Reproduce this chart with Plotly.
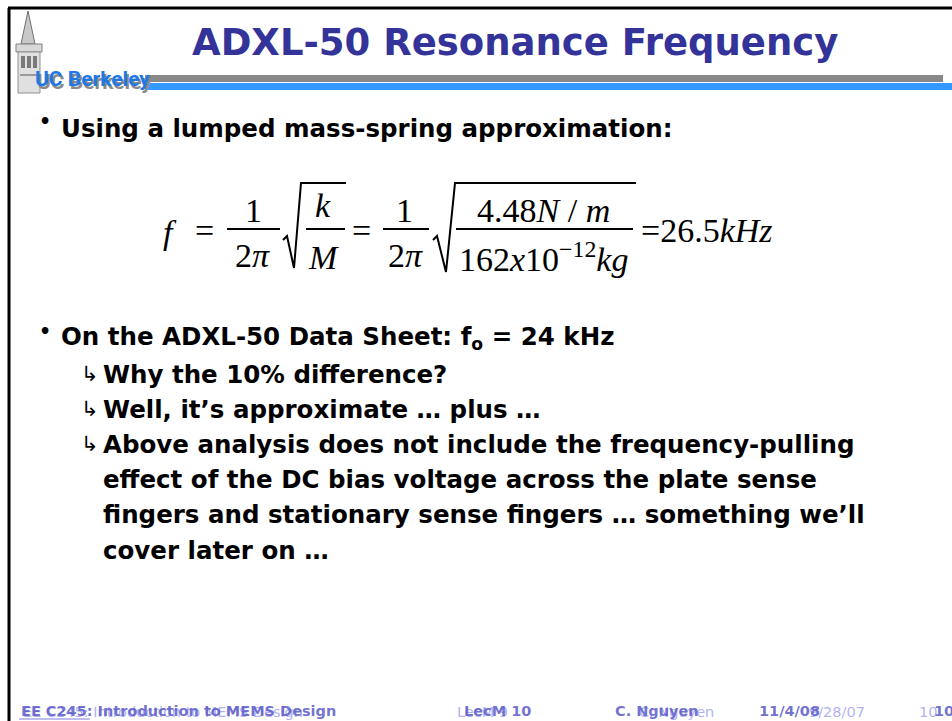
import plotly.graph_objects as go

W, H = 952, 721

title_text = "ADXL-50 Resonance Frequency"
bullet_lines = ["Using a lumped mass-spring approximation:",
                "On the ADXL-50 Data Sheet: f<sub>o</sub> = 24 kHz"]
bullet_y = [128, 338]
sub_lines = ["Why the 10% difference?",
             "Well, it’s approximate … plus …",
             "Above analysis does not include the frequency-pulling",
             "effect of the DC bias voltage across the plate sense",
             "fingers and stationary sense fingers … something we’ll",
             "cover later on …"]
sub_y = [374, 409, 444, 479, 514, 550]
sub_arrow = [True, True, True, False, False, False]

footer_light = [("EE C245: Introduction to MEMS Design", 21), ("LecM 9", 455),
                ("C. Nguyen", 637), ("9/28/07", 807), ("10", 917)]
footer_dark = [("EE C245: Introduction to MEMS Design", 19), ("LecM 10", 462),
               ("C. Nguyen", 613), ("11/4/08", 757), ("10", 932)]

BODY_FONT = "DejaVu Sans"
SERIF = "Liberation Serif"
TITLE_COLOR = "#333399"

fig = go.Figure()
ann = []
shapes = []

def text(x, y, s, size, color="black", family=BODY_FONT, xanchor="left", weight="normal", yanchor="middle"):
    ann.append(dict(x=x, y=y, xref="x", yref="y", text=s, showarrow=False,
                    xanchor=xanchor, yanchor=yanchor,
                    font=dict(size=size, color=color, family=family, weight=weight)))

def line(x0, y0, x1, y1, color="black", width=2):
    shapes.append(dict(type="line", xref="x", yref="y", x0=x0, y0=y0, x1=x1, y1=y1,
                       line=dict(color=color, width=width)))

def rect(x0, y0, x1, y1, color, lc=None):
    shapes.append(dict(type="rect", xref="x", yref="y", x0=x0, y0=y0, x1=x1, y1=y1,
                       fillcolor=color, line=dict(width=0 if lc is None else 1, color=lc or color)))

# slide border
line(8, 8, W, 8, width=3)
line(9, 8, 9, H, width=3)

# header bars
rect(145, 75, 943, 82, "#888888")
rect(145, 83, W, 90, "#3399ff")

# tower logo (simplified)
shapes.append(dict(type="path", xref="x", yref="y",
                   path="M 28 11 L 21 44 L 35 44 Z", fillcolor="#c8c8c8",
                   line=dict(color="#707070", width=1)))
rect(16, 44, 42, 52, "#d8d8d8", "#808080")
rect(18, 52, 40, 93, "#e0e0e0", "#909090")
for wx in (21, 27, 33):
    rect(wx, 56, wx + 4, 68, "#7a7a7a")
rect(20, 74, 38, 76, "#9a9a9a")

# UC Berkeley wordmark with shadow
text(35, 82, "<b>UC Berkeley</b>", 21, color="#8a8a8a", family="Liberation Sans Narrow, Roboto, sans-serif")
text(33, 79, "<b>UC Berkeley</b>", 21, color="#1e78e6", family="Liberation Sans Narrow, Roboto, sans-serif")

# title
text(515, 42, title_text, 37, color=TITLE_COLOR, xanchor="center", weight="bold")

# bullets
for s, y in zip(bullet_lines, bullet_y):
    text(37, y - 7, "•", 19, weight="bold")
    text(59, y, s, 24.5, weight="bold")
for s, y, a in zip(sub_lines, sub_y, sub_arrow):
    if a:
        text(79, y, "↳", 21, weight="normal")
    text(101, y, s, 24.5, weight="bold")

# formula
fs = 34
text(170, 232, "<i>f</i>", fs, family=SERIF, xanchor="center")
text(204, 230, "=", fs, family=SERIF, xanchor="center")
text(253, 210, "1", fs, family=SERIF, xanchor="center")
line(227, 229, 280, 229, width=2)
text(252, 255, "2<i>π</i>", fs, family=SERIF, xanchor="center")
shapes.append(dict(type="path", xref="x", yref="y",
                   path="M 283 240 L 287 236 L 294 268 L 301 183 L 346 183",
                   line=dict(color="black", width=2)))
text(323, 205, "<i>k</i>", fs, family=SERIF, xanchor="center")
line(306, 229, 345, 229, width=2)
text(323, 257, "<i>M</i>", fs, family=SERIF, xanchor="center")
text(361, 230, "=", fs, family=SERIF, xanchor="center")
text(404, 210, "1", fs, family=SERIF, xanchor="center")
line(383, 229, 429, 229, width=2)
text(405, 255, "2<i>π</i>", fs, family=SERIF, xanchor="center")
shapes.append(dict(type="path", xref="x", yref="y",
                   path="M 433 240 L 437 236 L 446 272 L 455 183 L 636 183",
                   line=dict(color="black", width=2)))
text(543, 210, "4.48<i>N</i> / <i>m</i>", fs, family=SERIF, xanchor="center")
line(456, 229, 633, 229, width=2)
text(543, 257, "162<i>x</i>10<sup>−12</sup><i>kg</i>", fs, family=SERIF, xanchor="center")
text(639, 230, "=26.5<i>kHz</i>", fs, family=SERIF, xanchor="left")

# footer (ghosted overlap)
for s, x in footer_light:
    text(x, 712, s, 14.5, color="rgba(150,150,240,0.75)")
for s, x in footer_dark:
    text(x, 711, s, 14.5, color="rgba(90,90,200,0.85)", weight="bold")
line(19, 719, 90, 719, color="rgba(110,110,220,0.9)", width=1)

fig.update_layout(
    width=W, height=H, margin=dict(l=0, r=0, t=0, b=0),
    paper_bgcolor="white", plot_bgcolor="white",
    xaxis=dict(range=[0, W], visible=False, fixedrange=True),
    yaxis=dict(range=[H, 0], visible=False, fixedrange=True),
    annotations=ann, shapes=shapes, showlegend=False,
)
fig.write_html("out.html", config={"displayModeBar": False},
               post_script="document.body.style.margin='0';document.body.style.overflow='hidden';")
